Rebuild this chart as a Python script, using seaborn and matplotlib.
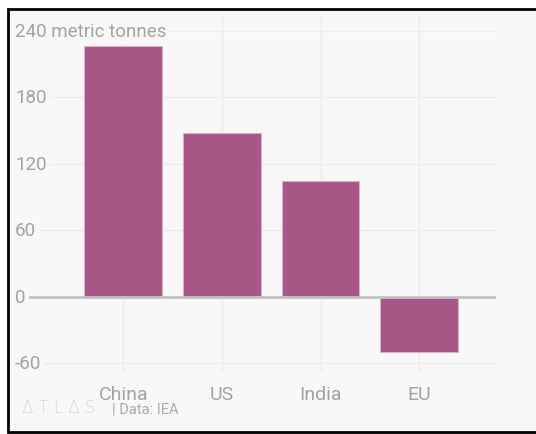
import matplotlib
matplotlib.use("Agg")
import matplotlib.pyplot as plt
from matplotlib.patches import Rectangle
from matplotlib.lines import Line2D
import seaborn as sns
import pandas as pd

# Change in coal demand by region
regions = ["China", "US", "India", "EU"]
change = [226, 148, 105, -50]
yticks = [-60, 0, 60, 120, 180, 240]
ytick_labels = ["-60", "0", "60", "120", "180", "240 metric tonnes"]

df = pd.DataFrame({"region": regions, "change": change})

sns.set_theme(style="white")
plt.rcParams["font.family"] = ["Roboto", "DejaVu Sans"]

BG = "#f8f8f8"
TXT = "#a3a3a3"
BAR = "#a85686"

fig = plt.figure(figsize=(5.36, 4.35), dpi=100)
fig.patch.set_facecolor("white")
W, H = 536, 435

# card background and its open-right frame
fig.patches.append(Rectangle((8 / W, 2 / H), 1 - 8 / W, 423 / H, transform=fig.transFigure,
                             facecolor=BG, edgecolor="none", zorder=-5))
fx = [1.0, 8 / W, 8 / W, 1.0]
fy = [1 - 10 / H, 1 - 10 / H, 2 / H, 2 / H]
fig.lines.append(Line2D(fx, fy, transform=fig.transFigure, color="black", lw=2,
                        solid_joinstyle="miter", zorder=-4))

ax = fig.add_axes([15 / W, (H - 372) / H, 481 / W, 355 / H])
ax.set_facecolor("none")
ax.set_zorder(2)

sns.barplot(data=df, x="region", y="change", order=regions, color=BAR, width=0.79,
            saturation=1, edgecolor="#dcb0c8", linewidth=0.8, ax=ax, zorder=3)

ax.set_xlim(-1.1, 3.78)
ax.set_ylim(-66.8, 253.5)

for s in ax.spines.values():
    s.set_visible(False)

# grid
for x in range(len(regions)):
    ax.axvline(x, color="#ececec", lw=1, zorder=1)
for v in yticks:
    if v == 0:
        ax.axhline(0, color="#c2c2c2", lw=2, zorder=4)
    else:
        ax.axhline(v, color="#ececec", lw=1, zorder=1)

ax.set_yticks([])
ax.set_xticks(range(len(regions)))
ax.set_xticklabels(regions, fontsize=14, color=TXT)
ax.tick_params(axis="x", length=0, pad=10)
ax.set_xlabel("")
ax.set_ylabel("")

for v, lab in zip(yticks, ytick_labels):
    ax.text(0, v, lab, transform=ax.get_yaxis_transform(), ha="left", va="center",
            fontsize=13.5, color=TXT, zorder=5,
            bbox=dict(facecolor=BG, edgecolor="none", pad=2.5))

fig.text(22 / W, 1 - 408 / H, "Δ T L Δ S", fontsize=12, color="#d6d6d6", va="center",
         ha="left", family=["DejaVu Sans"], fontweight="light")
fig.text(112 / W, 1 - 410 / H, "| Data: IEA", fontsize=10.5, color="#ababab",
         va="center", ha="left")

fig.savefig("out.png", dpi=100, facecolor="white")
